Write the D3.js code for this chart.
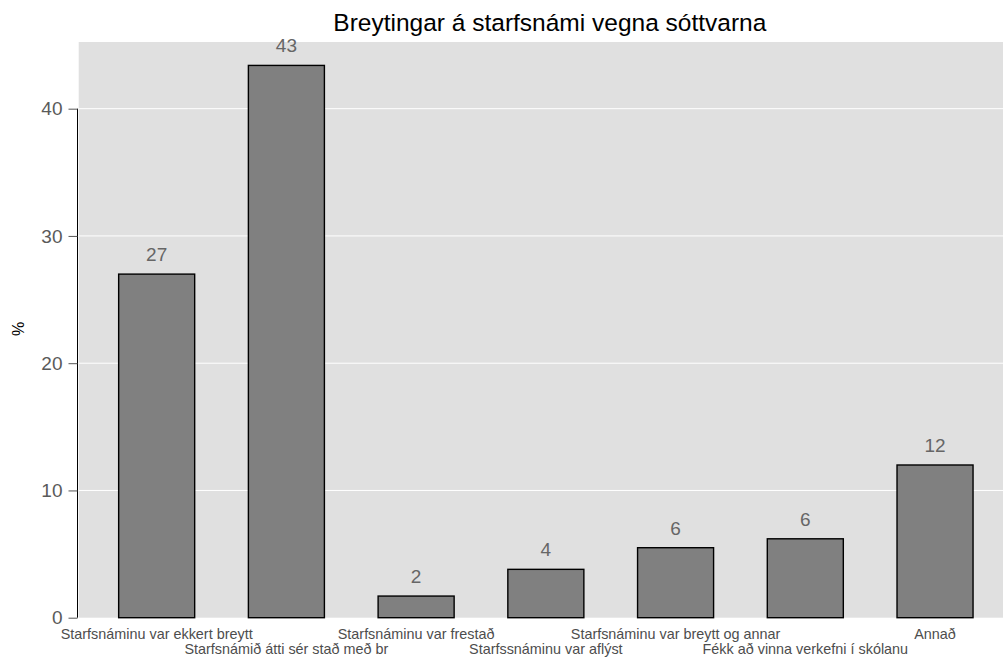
<!DOCTYPE html>
<html><head><meta charset="utf-8">
<script src="https://cdn.jsdelivr.net/npm/d3@7"></script>
<style>body{margin:0;background:#fff}svg{display:block}text{font-family:"Liberation Sans",Arial,sans-serif}</style>
</head><body>
<script>
const categories = ["Starfsnáminu var ekkert breytt","Starfsnámið átti sér stað með br","Starfsnáminu var frestað","Starfssnáminu var aflýst","Starfsnáminu var breytt og annar","Fékk að vinna verkefni í skólanu","Annað"];
const values = [27.0, 43.4, 1.7, 3.8, 5.5, 6.2, 12.0];
const valueLabels = ["27","43","2","4","6","6","12"];
const yTicks = [0, 10, 20, 30, 40];
const title = "Breytingar á starfsnámi vegna sóttvarna";
const yTitle = "%";

const W = 1003, H = 662;
const panel = {left: 78.7, right: 1003, top: 42, bottom: 617.7};
const svg = d3.select("body").append("svg").attr("width", W).attr("height", H);

const y = d3.scaleLinear().domain([0, 45.24]).range([panel.bottom, panel.top]);
const x = d3.scaleBand().domain(categories).range([panel.left, 1013]).paddingInner(0.414).paddingOuter(0.308);

svg.append("rect").attr("x", panel.left).attr("y", panel.top)
  .attr("width", panel.right - panel.left).attr("height", panel.bottom - panel.top).attr("fill", "#e0e0e0");

svg.append("g").selectAll("line").data(yTicks.filter(d => d > 0)).join("line")
  .attr("x1", panel.left).attr("x2", panel.right)
  .attr("y1", d => y(d)).attr("y2", d => y(d))
  .attr("stroke", "#fff").attr("stroke-width", 1);

svg.append("g").selectAll("rect").data(values).join("rect")
  .attr("x", (d, i) => x(categories[i])).attr("width", x.bandwidth())
  .attr("y", d => y(d)).attr("height", d => y(0) - y(d))
  .attr("fill", "#808080").attr("stroke", "#000").attr("stroke-width", 1.4);

svg.append("g").selectAll("text").data(values).join("text")
  .attr("x", (d, i) => x(categories[i]) + x.bandwidth() / 2)
  .attr("y", d => y(d) - 13)
  .attr("text-anchor", "middle").attr("font-size", 19).attr("fill", "#666")
  .text((d, i) => valueLabels[i]);

const yAxis = svg.append("g").attr("transform", `translate(${panel.left - 1.2},0)`)
  .call(d3.axisLeft(y).tickValues(yTicks).tickSize(9).tickPadding(6));
yAxis.select(".domain").attr("d", `M0,${y(40)}V${y(0)}`).attr("stroke", "#000");
yAxis.selectAll(".tick line").attr("stroke", "#555");
yAxis.selectAll(".tick text").attr("font-size", 19).attr("fill", "#5a5a5a")
  .attr("font-family", '"Liberation Sans",Arial,sans-serif');

svg.append("g").selectAll("text").data(categories).join("text")
  .attr("x", d => x(d) + x.bandwidth() / 2)
  .attr("y", (d, i) => i % 2 === 0 ? 638.6 : 653.6)
  .attr("text-anchor", "middle").attr("font-size", 14.4).attr("fill", "#4d4d4d")
  .text(d => d);

svg.append("text").attr("x", (panel.left + panel.right) / 2 + 9).attr("y", 31)
  .attr("text-anchor", "middle").attr("font-size", 24.5).attr("fill", "#000").text(title);

svg.append("text").attr("transform", "translate(24,329) rotate(-90)")
  .attr("text-anchor", "middle").attr("font-size", 16).attr("fill", "#000").text(yTitle);
</script>
</body></html>
